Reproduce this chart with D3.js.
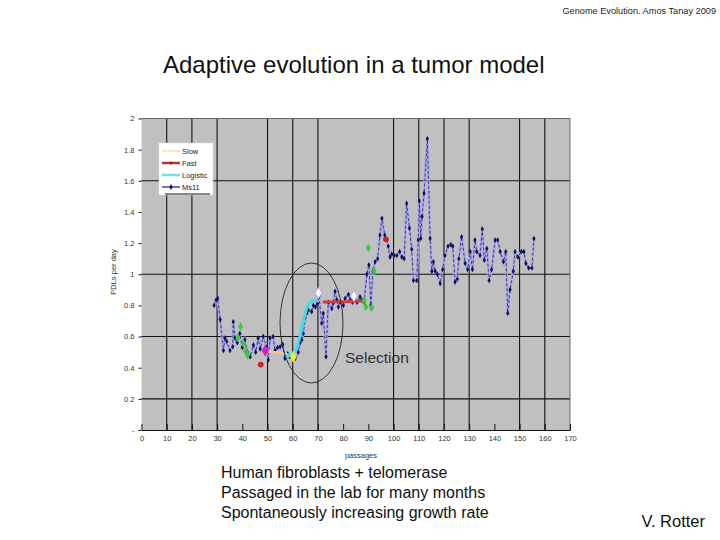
<!DOCTYPE html>
<html><head><meta charset="utf-8">
<script src="https://cdn.jsdelivr.net/npm/d3@7/dist/d3.min.js"></script>
<style>
body{margin:0;background:#fff;}
svg{display:block;font-family:"Liberation Sans",Arial,sans-serif;}
</style></head>
<body><svg id="c" width="720" height="540"></svg>
<script>
// ---- data ----
const passages = [28.8,29.6,30.2,31.2,32.5,33.1,33.8,35.1,36.2,36.4,37.1,38.0,39.0,40.0,41.0,42.0,43.1,44.4,45.3,46.3,47.1,48.3,49.7,50.3,51.0,52.2,53.0,54.0,55.0,56.0,56.9,58.0,58.9,60.0,61.0,62.2,62.9,63.6,64.2,64.9,65.6,66.2,67.5,68.2,69.0,69.8,70.4,71.5,72.1,73.2,74.1,75.5,76.1,76.8,77.5,78.1,78.7,80.1,80.8,82.1,82.8,83.7,84.7,85.5,86.7,87.4,88.3,89.4,90.2,91.0,91.8,92.7,93.7,94.6,95.4,96.5,97.9,98.6,99.3,100.2,101.3,102.4,103.3,104.2,105.2,106.3,107.2,107.9,109.2,109.8,110.2,110.8,111.3,112.1,113.4,114.5,115.2,115.8,116.5,117.4,118.5,119.5,120.4,121.6,122.7,123.5,124.4,125.3,125.9,127.0,128.4,129.4,130.4,131.3,132.3,133.0,134.3,135.2,136.0,137.0,137.9,138.9,140.3,141.3,142.3,143.6,144.5,145.3,146.2,147.5,148.2,149.3,150.7,151.7,152.5,153.6,154.9,155.7];
const ms11 = [0.80,0.835,0.845,0.71,0.51,0.59,0.57,0.51,0.535,0.695,0.59,0.56,0.62,0.53,0.58,0.50,0.47,0.545,0.50,0.59,0.52,0.60,0.535,0.45,0.59,0.60,0.51,0.53,0.535,0.55,0.46,0.49,0.47,0.48,0.46,0.50,0.56,0.58,0.62,0.72,0.75,0.77,0.76,0.80,0.79,0.81,0.86,0.685,0.75,0.47,0.82,0.78,0.815,0.89,0.835,0.79,0.82,0.80,0.845,0.87,0.835,0.82,0.85,0.82,0.855,0.835,0.82,1.0,1.06,0.80,1.02,1.08,1.10,1.25,1.36,1.25,1.18,1.11,1.13,1.12,1.12,1.145,1.11,1.10,1.455,1.295,1.16,0.96,0.96,1.22,1.47,1.23,1.37,1.52,1.87,1.23,1.02,1.08,1.02,1.0,0.94,1.03,1.12,1.18,1.19,1.18,0.95,0.97,1.10,1.24,1.07,1.03,1.145,1.03,1.22,1.145,1.12,1.29,1.09,1.165,0.96,1.03,1.22,1.22,1.145,1.08,1.145,0.75,0.90,1.02,1.145,1.11,1.145,1.145,1.07,1.04,1.04,1.23];

const slowX = [49.7,53,57,60];
const slowY = [0.505,0.50,0.49,0.475];
const fastX = [71.9,80,88];
const fastY = [0.822,0.824,0.83];
const logisticX = [57,59,60,61,62,63,64,65,66,67,68,70];
const logisticY = [0.477,0.48,0.49,0.51,0.55,0.61,0.68,0.75,0.80,0.82,0.83,0.832];

const markX = [38.2,39.3,40.4,41.3,42.1,88.4,89.0,91.3,90.0,92.3,49.1,47.3,97.0,60.2,70.2,84.3];
const markY = [0.593,0.663,0.557,0.507,0.48,0.833,0.79,0.785,1.17,1.02,0.51,0.42,1.224,0.47,0.88,0.86];
const markKind = ["g","g","g","g","g","g","g","g","g","g","m","r","r","y","w","w"];

const legendLabels = ["Slow","Fast","Logistic","Ms11"];
const xTicks = d3.range(0,171,10);
const yTicks = [0,0.2,0.4,0.6,0.8,1,1.2,1.4,1.6,1.8,2];
const gridX = [10,20,30,50,60,70,100,110,120,130,150,160];
const gridY = [0.2,0.6,1.0,1.6];

// ---- drawing ----
const svg = d3.select("#c");
const x = d3.scaleLinear().domain([0,170]).range([141.5,570]);
const y = d3.scaleLinear().domain([0,2]).range([430,118.5]);

svg.append("text").attr("x",716).attr("y",14).attr("text-anchor","end")
  .attr("font-size",9.2).attr("fill","#222").text("Genome Evolution. Amos Tanay 2009");
svg.append("text").attr("x",163).attr("y",73).attr("font-size",24).attr("fill","#111")
  .text("Adaptive evolution in a tumor model");

// plot background
svg.append("rect").attr("x",x(0)).attr("y",y(2)).attr("width",x(170)-x(0)).attr("height",y(0)-y(2))
  .attr("fill","#c0c0c0");
// grid
svg.append("g").selectAll("line").data(gridX).join("line")
  .attr("x1",d=>x(d)).attr("x2",d=>x(d)).attr("y1",y(2)).attr("y2",y(0))
  .attr("stroke","#111").attr("stroke-width",1.1);
svg.append("g").selectAll("line").data(gridY).join("line")
  .attr("x1",x(0)).attr("x2",x(170)).attr("y1",d=>y(d)).attr("y2",d=>y(d))
  .attr("stroke","#111").attr("stroke-width",1.1);
// borders top/right
svg.append("line").attr("x1",x(0)).attr("x2",x(170)).attr("y1",y(2)).attr("y2",y(2)).attr("stroke","#666").attr("stroke-width",1);
svg.append("line").attr("x1",x(170)).attr("x2",x(170)).attr("y1",y(2)).attr("y2",y(0)).attr("stroke","#666").attr("stroke-width",1);

// axes
const yAxis = d3.axisLeft(y).tickValues(yTicks).tickSize(3).tickPadding(4)
  .tickFormat(d=> d===0 ? "-" : String(+d.toFixed(1)));
const gy = svg.append("g").attr("transform",`translate(${x(0)},0)`).call(yAxis);
gy.select(".domain").remove();
gy.selectAll("text").attr("font-size",7.5).attr("fill","#333").attr("font-family","Liberation Sans, Arial");
gy.selectAll("line").attr("stroke","#111");

const xAxis = d3.axisBottom(x).tickValues(xTicks).tickSizeInner(-6).tickSizeOuter(0).tickPadding(6);
const gx = svg.append("g").attr("transform",`translate(0,${y(0)})`).call(xAxis);
gx.select(".domain").attr("stroke","#111").attr("stroke-width",1.2);
gx.selectAll("line").attr("stroke","#111");
gx.selectAll("text").attr("font-size",7.5).attr("fill","#333").attr("font-family","Liberation Sans, Arial");

svg.append("text").attr("x",361).attr("y",458).attr("text-anchor","middle").attr("font-size",7.5).attr("fill","#333").text("passages");
svg.append("text").attr("transform","translate(116,272) rotate(-90)").attr("text-anchor","middle")
  .attr("font-size",7.5).attr("fill","#333").text("PDLs per day");

// series
const line = d3.line().x(d=>x(d[0])).y(d=>y(d[1]));
const msData = passages.map((p,i)=>[p,ms11[i]]);
svg.append("path").datum(msData).attr("d",line).attr("fill","none")
  .attr("stroke","#aaaae8").attr("stroke-width",2.6);
svg.append("path").datum(msData).attr("d",line).attr("fill","none")
  .attr("stroke","#1a1a70").attr("stroke-width",0.9).attr("stroke-dasharray","3,2").attr("opacity",0.85);
svg.append("g").selectAll("path").data(msData).join("path")
  .attr("transform",d=>`translate(${x(d[0])},${y(d[1])})`)
  .attr("d",d3.symbol(d3.symbolDiamond,9)).attr("fill","#10105a");

svg.append("path").datum(slowX.map((p,i)=>[p,slowY[i]])).attr("d",line).attr("fill","none")
  .attr("stroke","#f2c79c").attr("stroke-width",2.5);
svg.append("path").datum(logisticX.map((p,i)=>[p,logisticY[i]])).attr("d",d3.line().curve(d3.curveMonotoneX).x(d=>x(d[0])).y(d=>y(d[1])))
  .attr("fill","none").attr("stroke","#3fdcee").attr("stroke-width",3);
svg.append("path").datum(fastX.map((p,i)=>[p,fastY[i]])).attr("d",line).attr("fill","none")
  .attr("stroke","#d83a3a").attr("stroke-width",3);

const kindStyle = {g:{fill:"#3ec83e",size:22,sym:d3.symbolDiamond},m:{fill:"#cc22cc",size:45,sym:d3.symbolDiamond},
  r:{fill:"#c8202a",size:26,sym:d3.symbolCircle},y:{fill:"#f0f020",size:40,sym:d3.symbolDiamond},w:{fill:"#f4f4ff",size:40,sym:d3.symbolDiamond}};
svg.append("g").selectAll("path").data(markX.map((p,i)=>({x:p,y:markY[i],k:markKind[i]}))).join("path")
  .attr("transform",d=>`translate(${x(d.x)},${y(d.y)})`)
  .attr("d",d=>d3.symbol(kindStyle[d.k].sym,kindStyle[d.k].size)())
  .attr("fill",d=>kindStyle[d.k].fill).attr("stroke",d=>d.k==="w"?"#9090c0":"none").attr("stroke-width",0.5);

// legend
const lg = svg.append("g").attr("transform","translate(159,143)");
lg.append("rect").attr("width",54).attr("height",52).attr("fill","#fff").attr("stroke","#ddd").attr("stroke-width",0.5);
lg.append("line").attr("x1",6).attr("x2",51).attr("y1",51).attr("y2",51).attr("stroke","#111").attr("stroke-width",1);
const legColors = ["#f2dcb8","#c03030","#5fe8f4","#1a1a70"];
const legW = [1.5,2.5,2.5,1.2];
legendLabels.forEach((t,i)=>{
  const yy = 8 + i*12;
  lg.append("line").attr("x1",3).attr("x2",21).attr("y1",yy).attr("y2",yy).attr("stroke",legColors[i]).attr("stroke-width",legW[i]);
  if(i===1) lg.append("circle").attr("cx",12).attr("cy",yy).attr("r",1.6).attr("fill","#902020");
  if(i===3) lg.append("path").attr("transform",`translate(12,${yy})`).attr("d",d3.symbol(d3.symbolDiamond,10)).attr("fill","#10105a");
  lg.append("text").attr("x",23).attr("y",yy+2.5).attr("font-size",7.5).attr("fill","#222").text(t);
});

// selection ellipse
svg.append("ellipse").attr("cx",311.5).attr("cy",323).attr("rx",31.5).attr("ry",60)
  .attr("fill","none").attr("stroke","#222").attr("stroke-width",0.9);
svg.append("text").attr("x",345).attr("y",363).attr("font-size",15.5).attr("fill","#333").text("Selection");

// footer texts
const notes = ["Human fibroblasts + telomerase","Passaged in the lab for many months","Spontaneously increasing growth rate"];
notes.forEach((t,i)=>svg.append("text").attr("x",221).attr("y",478+i*20).attr("font-size",16).attr("fill","#111").text(t));
svg.append("text").attr("x",705).attr("y",527).attr("text-anchor","end").attr("font-size",16.5).attr("fill","#111").text("V. Rotter");
</script></body></html>
